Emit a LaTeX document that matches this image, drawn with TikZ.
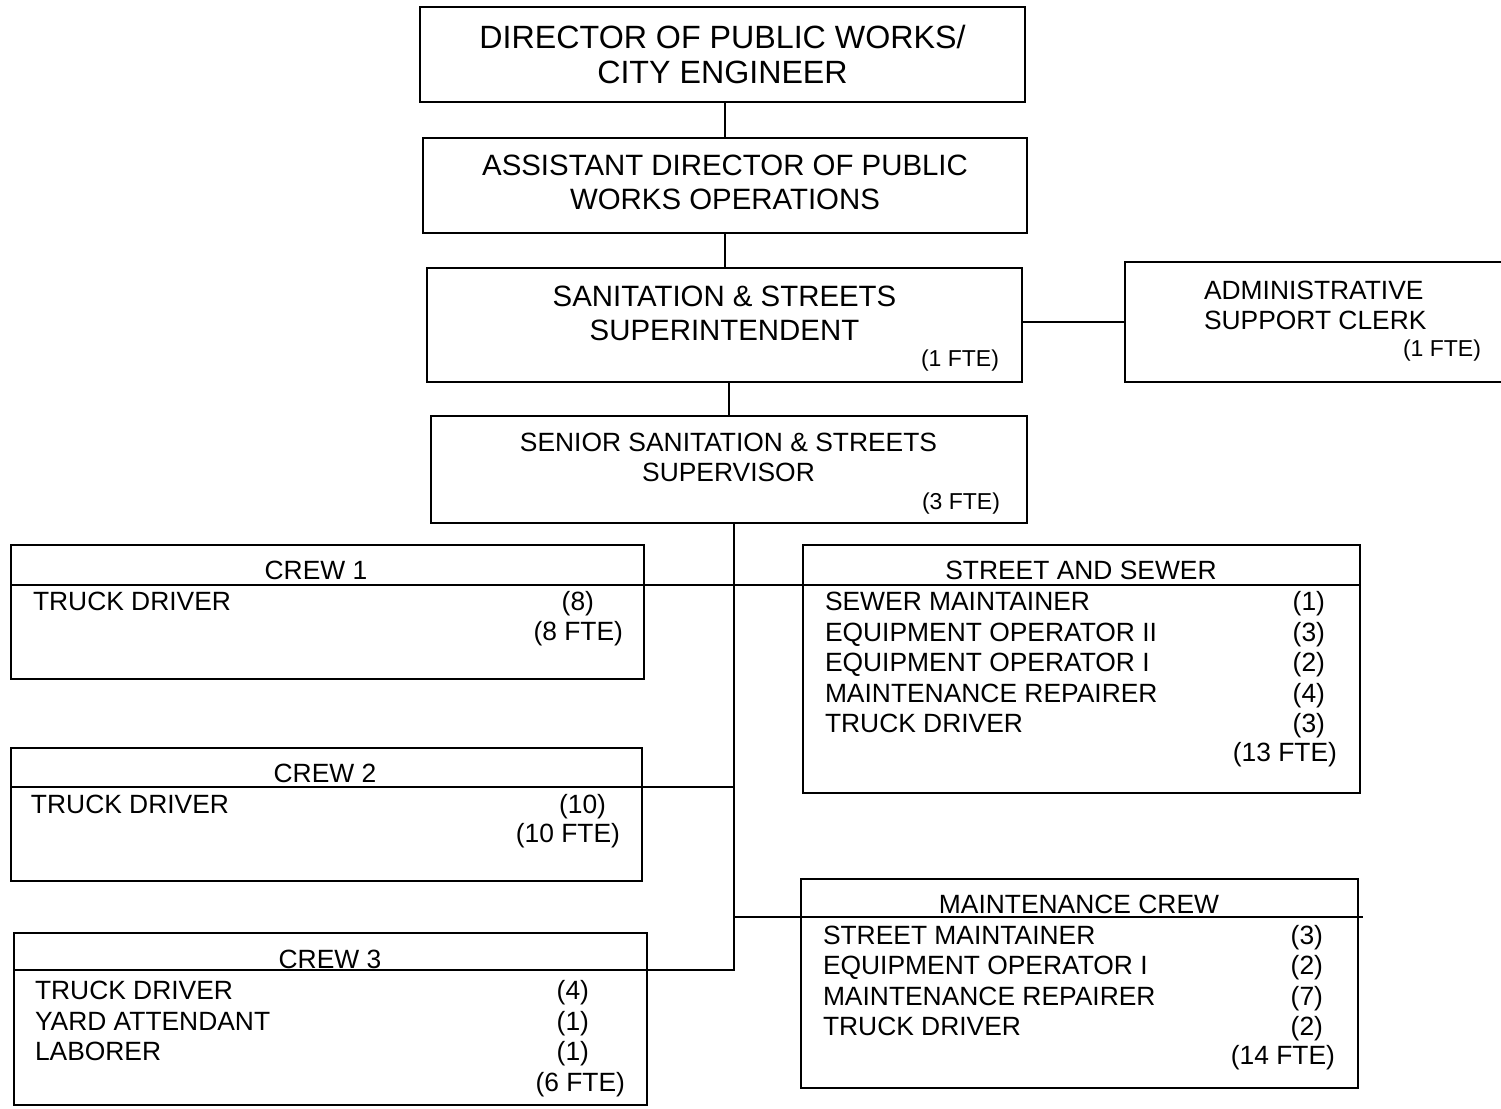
\documentclass[tikz,border=0pt]{standalone}
\usepackage{fontspec}
\setmainfont{Liberation Sans}
\usetikzlibrary{positioning}
\tikzset{every picture/.style={line width=1pt}}
\tikzset{
  box/.style={draw, inner sep=0pt},
  big/.style={inner sep=0pt, font=\fontsize{14.7}{17}\selectfont},
  txt/.style={inner sep=0pt, font=\fontsize{13.2}{15.25}\selectfont},
  fte/.style={inner sep=0pt, font=\fontsize{11.5}{13}\selectfont, anchor=base east},
}

\begin{document}
\begin{tikzpicture}[x=0.5pt, y=-0.5pt]
    \useasboundingbox (0,0) rectangle (1501,1109);
    % upper management
    \node[box, minimum width=302.5pt, minimum height=47.5pt, align=center, font=\fontsize{16.1}{17.5}\selectfont] (dir) at (722.5,54.5) {DIRECTOR OF PUBLIC WORKS/\\CITY ENGINEER};
    \node[box, minimum width=302pt, minimum height=47.5pt] (asst) at (725,185.5) {};
    \node[big, align=center] (assttx) at (725,182) {ASSISTANT DIRECTOR OF PUBLIC\\WORKS OPERATIONS};
    \node[box, minimum width=297.5pt, minimum height=57pt] (supt) at (724.5,325) {};
    \node[big, align=center] (supttx) at (724.5,313) {SANITATION \& STREETS\\SUPERINTENDENT};
    \node[fte] (suptfte) at (1000,366) {(1 FTE)};
    \node[box, minimum width=189pt, minimum height=60pt] (admin) at (1314,322) {};
    \node[txt, align=left, anchor=west] (admintx) at (1203,305.5) {ADMINISTRATIVE\\SUPPORT CLERK};
    \node[fte] (adminfte) at (1482,356) {(1 FTE)};
    \node[box, minimum width=298pt, minimum height=53.5pt] (senior) at (729,469.5) {};
    \node[txt, align=center] (seniortx) at (728.5,457.5) {SENIOR SANITATION \& STREETS\\SUPERVISOR};
    \node[fte] (seniorfte) at (1001,509) {(3 FTE)};
    % crews (multi-line columns sit on their last baseline)
    \node[box, minimum width=316.5pt, minimum height=67pt] (crew1) at (327.5,612) {};
    \node[txt] (crew1hd) at (316,570) {CREW 1};
    \node[txt, anchor=base west] (crew1tx) at (32,610.5) {TRUCK DRIVER};
    \node[txt, anchor=base east] (crew1no) at (595,610.5) {(8)};
    \node[txt, anchor=base east] (crew1fte) at (624,640) {(8 FTE)};
    \node[box, minimum width=278.5pt, minimum height=124pt] (sands) at (1081.5,669) {};
    \node[txt] (sandshd) at (1081,570) {STREET AND SEWER};
    \node[txt, align=left, anchor=base west] (sandstx) at (824,732.5) {SEWER MAINTAINER\\EQUIPMENT OPERATOR II\\EQUIPMENT OPERATOR I\\MAINTENANCE REPAIRER\\TRUCK DRIVER};
    \node[txt, align=right, anchor=base east] (sandsno) at (1326,732.5) {(1)\\(3)\\(2)\\(4)\\(3)};
    \node[txt, anchor=base east] (sandsfte) at (1338,761) {(13 FTE)};
    \node[box, minimum width=315.5pt, minimum height=66.5pt] (crew2) at (326.5,814.5) {};
    \node[txt] (crew2hd) at (325,773) {CREW 2};
    \node[txt, anchor=base west] (crew2tx) at (30,813.5) {TRUCK DRIVER};
    \node[txt, anchor=base east] (crew2no) at (607,813.5) {(10)};
    \node[txt, anchor=base east] (crew2fte) at (621,842) {(10 FTE)};
    \node[box, minimum width=278.5pt, minimum height=104.5pt] (maint) at (1079.5,983.5) {};
    \node[txt] (mainthd) at (1079,904) {MAINTENANCE CREW};
    \node[txt, align=left, anchor=base west] (mainttx) at (822,1035.5) {STREET MAINTAINER\\EQUIPMENT OPERATOR I\\MAINTENANCE REPAIRER\\TRUCK DRIVER};
    \node[txt, align=right, anchor=base east] (maintno) at (1324,1035.5) {(3)\\(2)\\(7)\\(2)};
    \node[txt, anchor=base east] (maintfte) at (1336,1064) {(14 FTE)};
    \node[box, minimum width=316.5pt, minimum height=86pt] (crew3) at (330.5,1019) {};
    \node[txt] (crew3hd) at (330,959) {CREW 3};
    \node[txt, align=left, anchor=base west] (crew3tx) at (34,1060.5) {TRUCK DRIVER\\YARD ATTENDANT\\LABORER};
    \node[txt, align=right, anchor=base east] (crew3no) at (590,1060.5) {(4)\\(1)\\(1)};
    \node[txt, anchor=base east] (crew3fte) at (626,1091) {(6 FTE)};
    % connectors
    \draw (asst.north) -- (asst.north |- dir.south);
    \draw (supt.north) -- (supt.north |- asst.south);
    \draw (senior.north) -- (senior.north |- supt.south);
    \draw (admin.west) -- (admin.west -| supt.east);
    \coordinate (h1) at (734,585);
    \coordinate (h2) at (734,787);
    \coordinate (h3) at (734,917);
    \coordinate (h4) at (734,970);
    \draw (senior.south -| h4) -- (h4) -- (h4 -| crew3.west);
    \draw (h1 -| crew1.west) -- (h1 -| sands.east);
    \draw (h2 -| crew2.west) -- (h2);
    \draw (h3) -- ([xshift=2pt]h3 -| maint.east);
\end{tikzpicture}
\end{document}
